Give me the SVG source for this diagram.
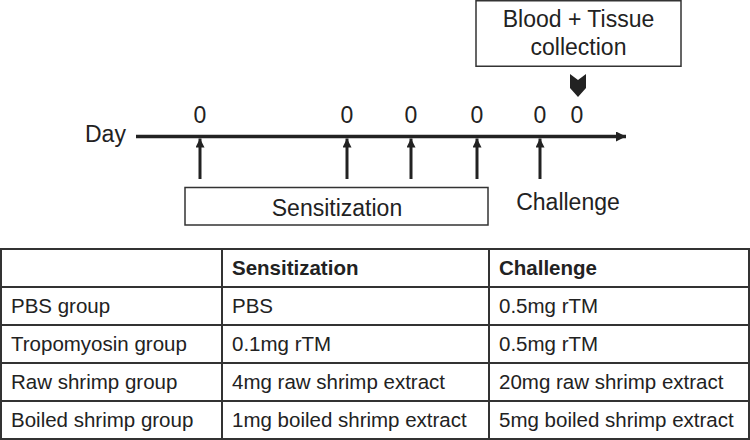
<svg xmlns="http://www.w3.org/2000/svg" width="750" height="440" viewBox="0 0 750 440">
<style>
text{font-family:"Liberation Sans",Arial,sans-serif;fill:#222}
.big{font-size:23px}
.mid{text-anchor:middle}
.t{font-size:20.5px}
.b{font-weight:bold}
.box{fill:#fff;stroke:#333;stroke-width:1.5}
.grid{stroke:#333;stroke-width:2;fill:none}
.arr{stroke:#222;stroke-width:3}
.axis{stroke:#222;stroke-width:3.5}
</style>
<defs>
<marker id="ah" viewBox="0 0 10 10" refX="10" refY="5" markerWidth="10" markerHeight="9" markerUnits="userSpaceOnUse" orient="auto">
<path d="M0,0 L10,5 L0,10 z" fill="#222"/>
</marker>
<marker id="ahl" viewBox="0 0 10 10" refX="10" refY="5" markerWidth="10" markerHeight="10" markerUnits="userSpaceOnUse" orient="auto">
<path d="M0,0 L10,5 L0,10 z" fill="#222"/>
</marker>
</defs>

<g id="blood-box">
<rect class="box" x="476" y="0.75" width="205" height="65.5"/>
<text class="big mid" x="578.5" y="27">Blood + Tissue</text>
<text class="big mid" x="578.5" y="55">collection</text>
</g>

<g id="collection-marker">
<path d="M570,74 L578,80 L586,74 L586,88 L578,97 L570,88 Z" fill="#222"/>
</g>

<g id="timeline">
<text class="big" x="85" y="142">Day</text>
<text class="big mid" x="200" y="123">0</text>
<text class="big mid" x="347" y="123">0</text>
<text class="big mid" x="411" y="123">0</text>
<text class="big mid" x="477" y="123">0</text>
<text class="big mid" x="540" y="123">0</text>
<text class="big mid" x="577" y="123">0</text>
</g>

<g id="connectors">
<line class="axis" x1="136" y1="136.5" x2="626" y2="136.5" marker-end="url(#ahl)"/>
<line class="arr" x1="200" y1="179" x2="200" y2="138.5" marker-end="url(#ah)"/>
<line class="arr" x1="347" y1="179" x2="347" y2="138.5" marker-end="url(#ah)"/>
<line class="arr" x1="411" y1="179" x2="411" y2="138.5" marker-end="url(#ah)"/>
<line class="arr" x1="477" y1="179" x2="477" y2="138.5" marker-end="url(#ah)"/>
<line class="arr" x1="540" y1="179" x2="540" y2="138.5" marker-end="url(#ah)"/>
</g>

<g id="sensitization">
<rect class="box" x="185" y="187.5" width="303" height="37.5"/>
<text class="big mid" x="337" y="216">Sensitization</text>
</g>

<g id="challenge">
<text class="big mid" x="568" y="210">Challenge</text>
</g>

<g id="table">
<rect class="grid" x="1" y="249" width="748" height="190"/>
<line class="grid" x1="1" y1="287" x2="749" y2="287"/>
<line class="grid" x1="1" y1="325" x2="749" y2="325"/>
<line class="grid" x1="1" y1="363" x2="749" y2="363"/>
<line class="grid" x1="1" y1="401" x2="749" y2="401"/>
<line class="grid" x1="222" y1="249" x2="222" y2="439"/>
<line class="grid" x1="489" y1="249" x2="489" y2="439"/>
<text class="t b" x="232" y="275">Sensitization</text>
<text class="t b" x="499" y="275">Challenge</text>
<text class="t" x="11" y="313">PBS group</text>
<text class="t" x="232" y="313">PBS</text>
<text class="t" x="499" y="313">0.5mg rTM</text>
<text class="t" x="11" y="351">Tropomyosin group</text>
<text class="t" x="232" y="351">0.1mg rTM</text>
<text class="t" x="499" y="351">0.5mg rTM</text>
<text class="t" x="11" y="389">Raw shrimp group</text>
<text class="t" x="232" y="389">4mg raw shrimp extract</text>
<text class="t" x="499" y="389">20mg raw shrimp extract</text>
<text class="t" x="11" y="427">Boiled shrimp group</text>
<text class="t" x="232" y="427">1mg boiled shrimp extract</text>
<text class="t" x="499" y="427">5mg boiled shrimp extract</text>
</g>
</svg>
